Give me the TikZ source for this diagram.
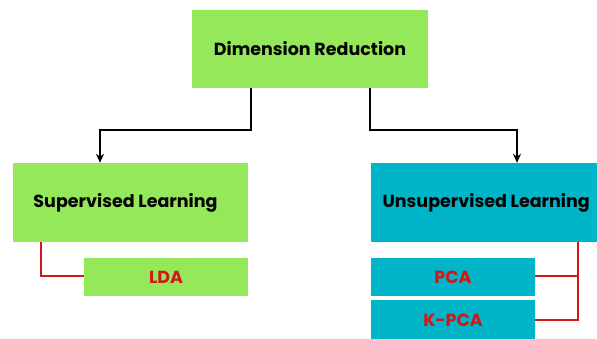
\documentclass[tikz,border=0pt]{standalone}
\usepackage{fontspec}
\setmainfont{Poppins}
\usetikzlibrary{arrows.meta}
\definecolor{lgreen}{HTML}{95E85A}
\definecolor{teal2}{HTML}{00B5C8}
\definecolor{dred}{HTML}{D01818}
\tikzset{
  box/.style={draw=none, inner sep=0pt, font=\bfseries\fontsize{17.5}{20}\selectfont},
  gbox/.style={box, fill=lgreen},
  tbox/.style={box, fill=teal2},
  sub/.style={font=\bfseries\fontsize{17.5}{20}\selectfont, text=dred},
  blk/.style={draw=black, line width=2pt, -{Stealth[length=9pt,width=8pt]}},
  redl/.style={draw=dred, line width=2pt}
}
\begin{document}
\begin{tikzpicture}[x=1pt,y=1pt]
\useasboundingbox (0,0) rectangle (597,339);
% top
\node[gbox, minimum width=236pt, minimum height=78pt] (top) at (310,290) {Dimension Reduction};
\node[gbox, minimum width=235pt, minimum height=79pt] (sup) at (130.5,136.5) {Supervised Learning\hspace*{10pt}};
\node[tbox, minimum width=228pt, minimum height=79pt, anchor=west] (uns) at (371,136.5) {\hspace*{2pt}Unsupervised Learning};
\node[gbox, sub, minimum width=164pt, minimum height=38pt] (lda) at (166,62) {LDA};
\node[tbox, sub, minimum width=164pt, minimum height=38pt] (pca) at (453,62) {PCA};
\node[tbox, sub, minimum width=164pt, minimum height=40pt] (kpca) at (453,19) {K-PCA};
% connectors
\coordinate (tl) at (251,251);
\coordinate (tr) at (370,251);
\draw[blk] (tl) -- (251,209) -- (100,209) -- (sup.north -| 100,0);
\draw[blk] (tr) -- (370,209) -- (517,209) -- (uns.north -| 517,0);
\draw[redl] (sup.south -| 41,0) -- (41,63) -- (lda.west |- 0,63);
\draw[redl] (uns.south -| 578,0) -- (578,19) -- (kpca.east |- 0,19);
\draw[redl] (578,63) -- (pca.east |- 0,63);
\end{tikzpicture}
\end{document}
